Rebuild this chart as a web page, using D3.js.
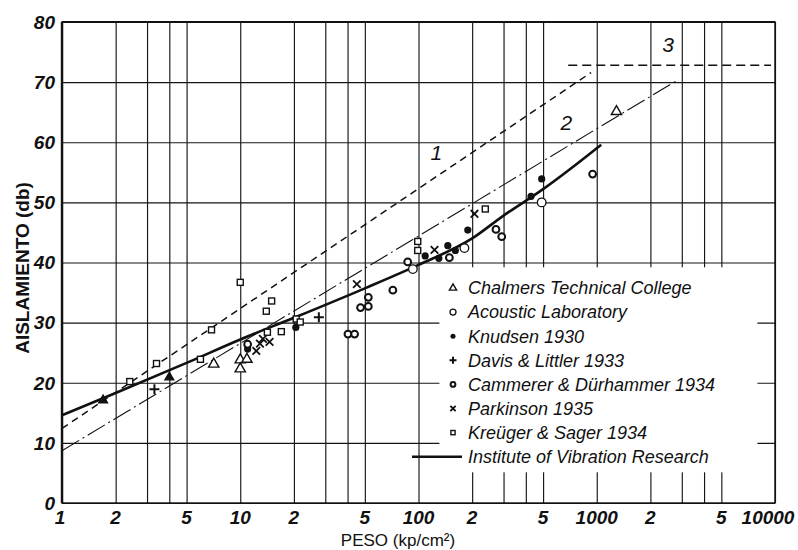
<!DOCTYPE html>
<html>
<head>
<meta charset="utf-8">
<script src="https://cdn.jsdelivr.net/npm/d3@7"></script>
<style>
  body { margin: 0; background: #fff; }
  svg { display: block; font-family: "Liberation Sans", Arial, sans-serif; }
  .grid line { stroke: #151515; stroke-width: 1.15; }
  .grid path { display: none; }
  .tick-label { font-size: 19px; font-style: italic; font-weight: bold; fill: #111; }
  .legend text { font-size: 18px; font-style: italic; fill: #111; }
</style>
</head>
<body>
<svg id="chart" width="798" height="550"></svg>
<script>
// axis ticks
const xGrid = [1, 2, 3, 4, 5, 10, 20, 30, 40, 50, 100, 200, 300, 400, 500, 1000, 2000, 3000, 4000, 5000, 10000];
const xLabelAt = [1, 2, 5, 10, 20, 50, 100, 200, 500, 1000, 2000, 5000, 10000];
const xLabels = ["1", "2", "5", "10", "2", "5", "100", "2", "5", "1000", "2", "5", "10000"];
const yTicks = [0, 10, 20, 30, 40, 50, 60, 70, 80];

// measured points [peso, db]
const chalmers = [[7.1, 23.1], [10, 23.8], [10, 22.3], [10.9, 23.9], [1290, 65.1]];
const chalmersSolid = [[1.7, 17.1], [4.0, 20.9]];
const acoustic = [[93, 38.9], [181, 42.4], [491, 50.0]];
const knudsen = [[11, 25.6], [20.5, 29.2], [109, 41.1], [130, 40.7], [146, 42.8], [161, 42.0], [189, 45.4], [428, 51.0], [491, 53.9]];
const davis = [[3.3, 18.9], [27.6, 30.9]];
const cammerer = [[11, 26.4], [40.2, 28.1], [43.8, 28.1], [47.3, 32.5], [52.3, 32.7], [52.3, 34.2], [71.8, 35.4], [87, 40.1], [149, 40.8], [272, 45.5], [293, 44.3], [948, 54.7]];
const parkinson = [[12.3, 25.3], [12.9, 26.5], [13.4, 27.3], [14.6, 26.8], [45.1, 36.4], [123, 42.1], [206, 48.1]];
const kreuger = [[2.4, 20.2], [3.39, 23.2], [5.98, 23.9], [6.9, 28.8], [10, 36.7], [14, 31.9], [15, 33.6], [14.2, 28.4], [17.0, 28.5], [20.6, 30.6], [21.7, 30.1], [99, 43.5], [99, 42.0], [237, 48.9]];

// reference lines
const line1X = [1, 930], line1Y = [12.4, 71.6];
const line2X = [1, 2790], line2Y = [8.7, 70.2];
const line3X = [692, 9500], line3Y = [72.8, 72.8];
const ivrX = [1, 2, 5, 10, 20, 50, 100, 200, 300, 500, 1000, 1060];
const ivrY = [14.6, 18.3, 23.3, 27.2, 30.8, 35.7, 39.6, 44.0, 47.8, 52.2, 59.0, 59.6];
const lineLabels = ["1", "2", "3"];
const lineLabelX = [126, 675, 2510];
const lineLabelY = [57, 62, 75];

const legendNames = ["Chalmers Technical College", "Acoustic Laboratory", "Knudsen  1930", "Davis & Littler 1933",
  "Cammerer & Dürhammer 1934", "Parkinson  1935", "Kreüger & Sager 1934", "Institute of Vibration Research"];
const legendTypes = ["tri", "circ", "dot", "plus", "bold", "times", "square", "line"];

const svg = d3.select("#chart");
const margin = { left: 62, top: 22, right: 23, bottom: 47 };
const W = 798 - margin.left - margin.right;
const H = 550 - margin.top - margin.bottom;

const x = d3.scaleLog().domain([1, 10000]).range([0, W]);
const y = d3.scaleLinear().domain([0, 80]).range([H, 0]);

const g = svg.append("g").attr("transform", "translate(" + margin.left + "," + margin.top + ")");

// grid
g.append("g").attr("class", "grid")
  .call(d3.axisLeft(y).tickValues(yTicks).tickSize(-W).tickFormat(""));
g.append("g").attr("class", "grid")
  .attr("transform", "translate(0," + H + ")")
  .call(d3.axisBottom(x).tickValues(xGrid).tickSize(-H).tickFormat(""));

// frame
g.append("rect").attr("width", W).attr("height", H)
  .attr("fill", "none").attr("stroke", "#111").attr("stroke-width", 1.4);
g.append("line").attr("x1", 0).attr("x2", 0).attr("y1", 0).attr("y2", H)
  .attr("stroke", "#111").attr("stroke-width", 2.4);
g.append("line").attr("x1", 0).attr("x2", W).attr("y1", 0).attr("y2", 0)
  .attr("stroke", "#111").attr("stroke-width", 2);

// tick labels
g.append("g").selectAll("text").data(yTicks).join("text")
  .attr("class", "tick-label")
  .attr("x", -7).attr("y", d => y(d)).attr("dy", "0.36em")
  .attr("text-anchor", "end")
  .text(d => d);
g.append("g").selectAll("text").data(xLabelAt).join("text")
  .attr("class", "tick-label")
  .attr("x", (d, i) => x(d) + (i === 0 ? -2 : 0) + (i === xLabelAt.length - 1 ? -7 : 0))
  .attr("y", H + 21)
  .attr("text-anchor", "middle")
  .text((d, i) => xLabels[i]);

// axis titles
svg.append("text")
  .attr("x", 398).attr("y", 546)
  .attr("text-anchor", "middle")
  .style("font-size", "17px").style("fill", "#111")
  .text("PESO (kp/cm²)");
svg.append("text")
  .attr("transform", "translate(29,268) rotate(-90)")
  .attr("text-anchor", "middle")
  .style("font-size", "19px").style("font-weight", "bold").style("fill", "#111")
  .text("AISLAMIENTO (db)");

// legend background hides grid
g.append("rect")
  .attr("x", x(131)).attr("y", y(39.2))
  .attr("width", 318).attr("height", 205)
  .attr("fill", "#fff");

// lines
const path = (xs, ys, curve) => d3.line()
  .x((d, i) => x(xs[i])).y((d, i) => y(ys[i]))
  .curve(curve || d3.curveLinear)(xs);

g.append("path").attr("d", path(line1X, line1Y))
  .attr("fill", "none").attr("stroke", "#111").attr("stroke-width", 1.5)
  .attr("stroke-dasharray", "7,5");
g.append("path").attr("d", path(line2X, line2Y))
  .attr("fill", "none").attr("stroke", "#111").attr("stroke-width", 1.1)
  .attr("stroke-dasharray", "20,4,2,4");
g.append("path").attr("d", path(line3X, line3Y))
  .attr("fill", "none").attr("stroke", "#111").attr("stroke-width", 1.6)
  .attr("stroke-dasharray", "9,5");
g.append("path").attr("d", path(ivrX, ivrY, d3.curveMonotoneX))
  .attr("fill", "none").attr("stroke", "#111").attr("stroke-width", 2.6);

g.append("g").selectAll("text").data(lineLabels).join("text")
  .attr("x", (d, i) => x(lineLabelX[i])).attr("y", (d, i) => y(lineLabelY[i]))
  .attr("text-anchor", "middle")
  .style("font-size", "21px").style("font-style", "italic").style("fill", "#111")
  .text(d => d);

// markers
function marker(sel, type, s) {
  s = s || 1;
  if (type === "tri" || type === "triSolid") {
    sel.append("path").attr("d", d3.symbol(d3.symbolTriangle, 46 * s * s)())
      .attr("fill", type === "tri" ? "#fff" : "#111").attr("stroke", "#111").attr("stroke-width", 1.4);
  } else if (type === "circ") {
    sel.append("circle").attr("r", 4.3 * s).attr("fill", "#fff").attr("stroke", "#111").attr("stroke-width", 1.3);
  } else if (type === "bold") {
    sel.append("circle").attr("r", 3.4 * s).attr("fill", "#fff").attr("stroke", "#111").attr("stroke-width", 2);
  } else if (type === "dot") {
    sel.append("circle").attr("r", 3.6 * s).attr("fill", "#111");
  } else if (type === "plus") {
    const a = 5 * s;
    sel.append("path").attr("d", `M${-a},0H${a}M0,${-a}V${a}`).attr("stroke", "#111").attr("stroke-width", 2);
  } else if (type === "times") {
    const a = 3.8 * s;
    sel.append("path").attr("d", `M${-a},${-a}L${a},${a}M${-a},${a}L${a},${-a}`).attr("stroke", "#111").attr("stroke-width", 1.8);
  } else if (type === "square") {
    const a = 3 * s;
    sel.append("rect").attr("x", -a).attr("y", -a).attr("width", 2 * a).attr("height", 2 * a)
      .attr("fill", "#fff").attr("stroke", "#111").attr("stroke-width", 1.4);
  }
}

const series = [
  [chalmers, "tri", 1], [chalmersSolid, "triSolid", 0.85], [acoustic, "circ", 1], [knudsen, "dot", 1],
  [davis, "plus", 1], [cammerer, "bold", 1], [parkinson, "times", 1], [kreuger, "square", 1]
];
series.forEach(([pts, type, s]) => {
  g.append("g").selectAll("g").data(pts).join("g")
    .attr("transform", d => "translate(" + x(d[0]) + "," + y(d[1]) + ")")
    .each(function () { marker(d3.select(this), type, s); });
});

// legend
const lg = svg.append("g").attr("class", "legend");
legendNames.forEach((name, i) => {
  const ly = 288 + i * 24.1;
  const item = lg.append("g").attr("transform", "translate(453," + ly + ")");
  if (legendTypes[i] === "line") {
    item.append("line").attr("x1", -41).attr("x2", 9).attr("y1", 0).attr("y2", 0)
      .attr("stroke", "#111").attr("stroke-width", 2.6);
  } else {
    marker(item, legendTypes[i], 0.7);
  }
  item.append("text").attr("x", 15).attr("y", 0).attr("dy", "0.35em").text(name);
});
</script>
</body>
</html>
